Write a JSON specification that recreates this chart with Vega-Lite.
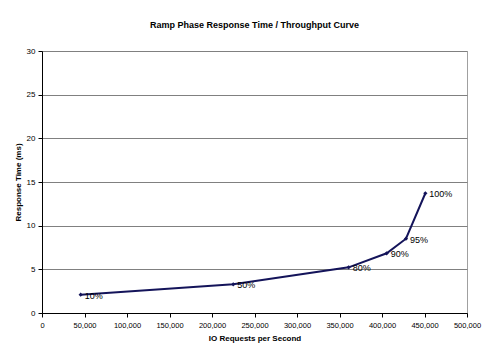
{
  "$schema": "https://vega.github.io/schema/vega-lite/v6.json",
  "width": 425,
  "height": 262,
  "autosize": {"type": "none"},
  "padding": {"left": 42, "top": 51, "right": 33, "bottom": 45},
  "background": "white",
  "title": {"text": "Ramp Phase Response Time / Throughput Curve", "font": "Liberation Sans", "fontSize": 9, "fontWeight": "bold", "color": "#000000", "offset": 17, "anchor": "middle"},
  "config": {
    "font": "Liberation Sans",
    "view": {"stroke": "#a0a0a0", "strokeWidth": 1},
    "axis": {"labelFont": "Liberation Sans", "titleFont": "Liberation Sans", "labelFontSize": 8, "titleFontSize": 8, "labelColor": "#000", "titleColor": "#000", "domainColor": "#000", "tickColor": "#000", "tickSize": 4, "labelOverlap": false, "labelFlush": false}
  },
  "data": {"values": [
    {"iops": 45500, "rt": 2.1, "label": "10%"},
    {"iops": 225000, "rt": 3.29, "label": "50%"},
    {"iops": 360800, "rt": 5.23, "label": "80%"},
    {"iops": 405500, "rt": 6.84, "label": "90%"},
    {"iops": 428200, "rt": 8.51, "label": "95%"},
    {"iops": 451000, "rt": 13.71, "label": "100%"}
  ]},
  "encoding": {
    "x": {"field": "iops", "type": "quantitative", "scale": {"domain": [0, 500000], "nice": false}, "axis": {"title": "IO Requests per Second", "values": [0,50000,100000,150000,200000,250000,300000,350000,400000,450000,500000], "format": ",d", "grid": false, "labelPadding": 4, "titlePadding": 6, "labelFontSize": 7.5}},
    "y": {"field": "rt", "type": "quantitative", "scale": {"domain": [0, 30], "nice": false}, "axis": {"title": "Response Time (ms)", "values": [0,5,10,15,20,25,30], "grid": true, "gridColor": "#808080", "gridWidth": 1, "labelPadding": 3, "titlePadding": 4}}
  },
  "layer": [
    {"mark": {"type": "line", "color": "#14145a", "strokeWidth": 2}},
    {"mark": {"type": "point", "shape": "diamond", "filled": true, "color": "#14145a", "size": 18, "opacity": 1}},
    {"mark": {"type": "text", "align": "left", "baseline": "middle", "dx": 4, "dy": 1, "fontSize": 9, "color": "#000"}, "encoding": {"text": {"field": "label"}}}
  ]
}
